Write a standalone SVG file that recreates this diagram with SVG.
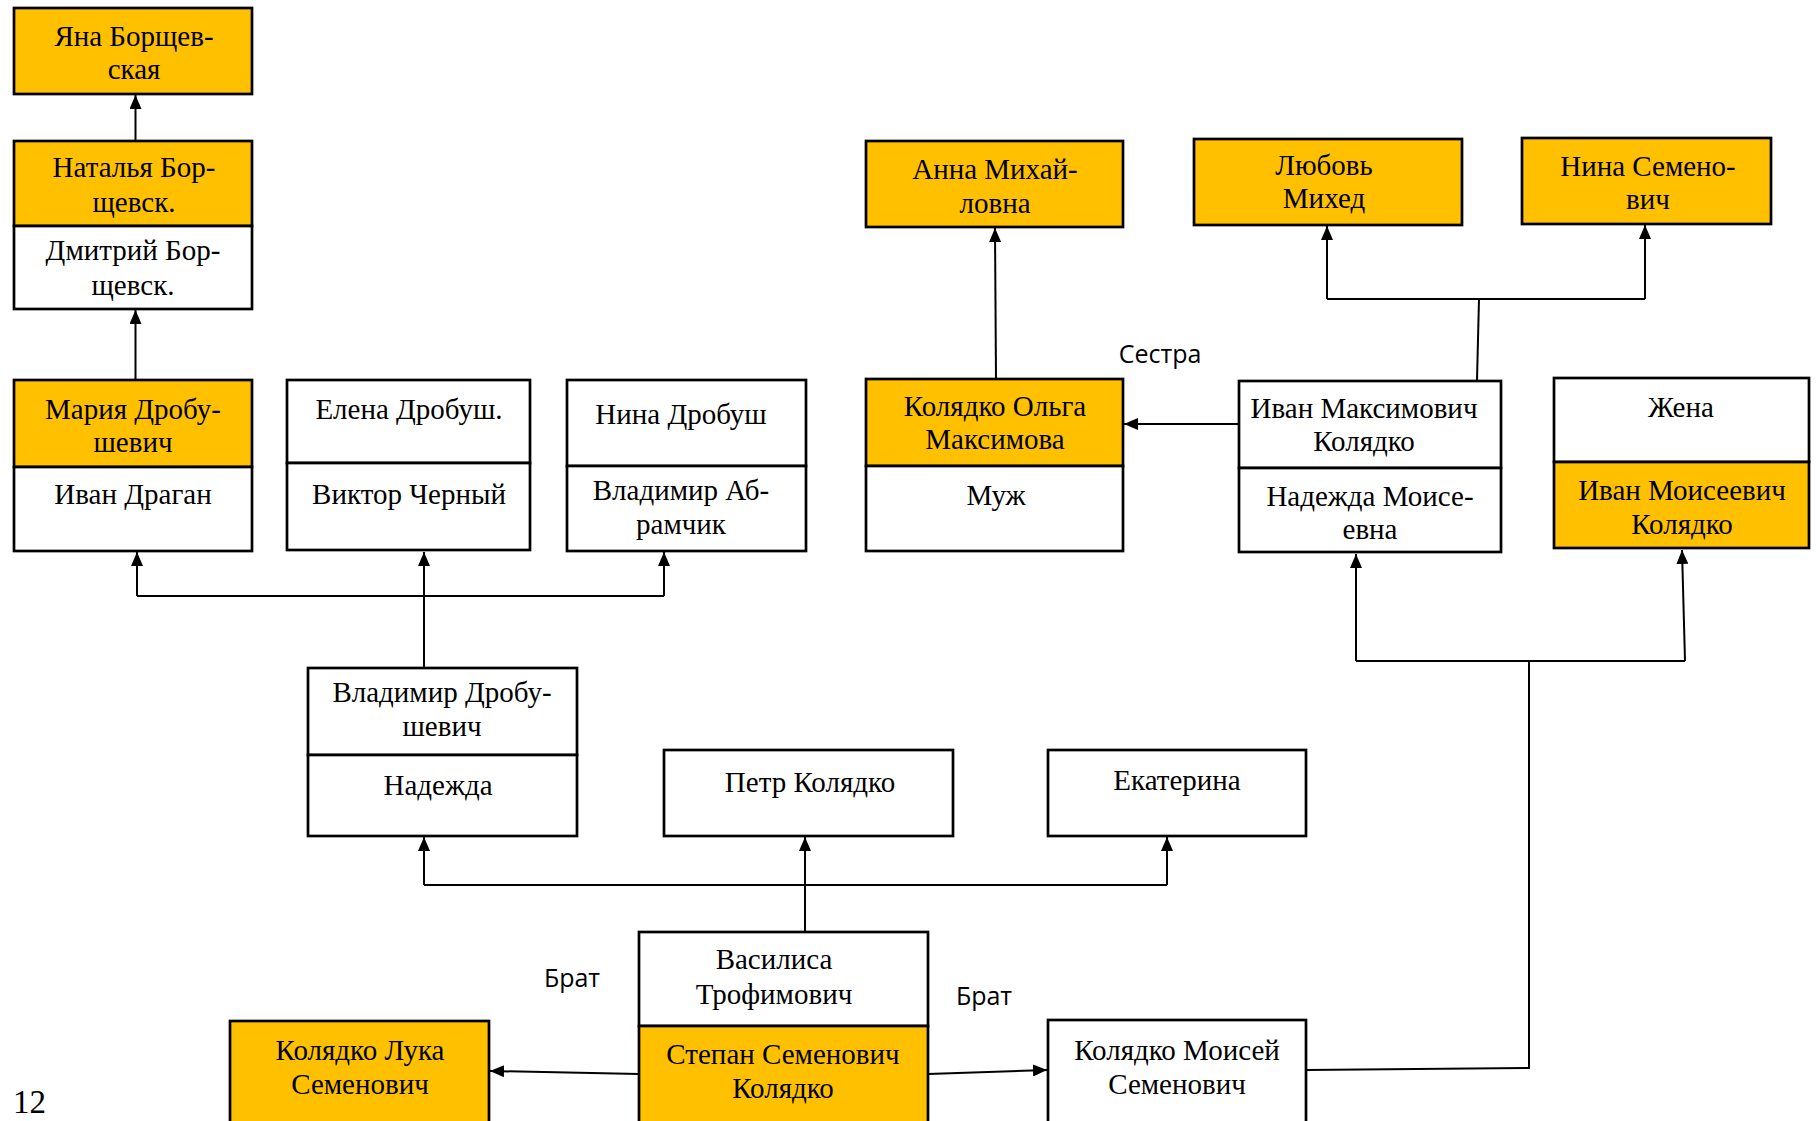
<svg xmlns="http://www.w3.org/2000/svg" width="1816" height="1121" viewBox="0 0 1816 1121">
<style>
.b{stroke:#000;stroke-width:2.7;fill:#fff}
.o{stroke:#000;stroke-width:2.7;fill:#FFC000}
.t{font-family:"Liberation Serif","Times New Roman",serif;font-size:29px;fill:#000;text-anchor:middle}
.s{font-family:"Open Sans","Noto Sans",sans-serif;font-size:25px;fill:#000;text-anchor:middle}
.c{stroke:#000;stroke-width:2;fill:none}
</style>
<defs>
<marker id="a" viewBox="0 0 10 10" refX="10" refY="5" markerWidth="14" markerHeight="12" orient="auto" markerUnits="userSpaceOnUse" preserveAspectRatio="none">
<path d="M0,0 L10,5 L0,10 z" fill="#000"/>
</marker>
</defs>
<rect width="1816" height="1121" fill="#fff"/>
<g id="connectors">
<path class="c" d="M135.5,141 V95" marker-end="url(#a)"/>
<path class="c" d="M135.5,380 V310" marker-end="url(#a)"/>
<path class="c" d="M424,668 V552" marker-end="url(#a)"/>
<path class="c" d="M137,596 H664"/>
<path class="c" d="M137,596 V552" marker-end="url(#a)"/>
<path class="c" d="M664,596 V552" marker-end="url(#a)"/>
<path class="c" d="M805,932 V837" marker-end="url(#a)"/>
<path class="c" d="M424,885 H1167"/>
<path class="c" d="M424,885 V837" marker-end="url(#a)"/>
<path class="c" d="M1167,885 V837" marker-end="url(#a)"/>
<path class="c" d="M639,1074 L490,1071" marker-end="url(#a)"/>
<path class="c" d="M928,1074 L1047,1070" marker-end="url(#a)"/>
<path class="c" d="M1306,1070 L1529,1068 V661"/>
<path class="c" d="M1356,661 H1685"/>
<path class="c" d="M1356,661 V554" marker-end="url(#a)"/>
<path class="c" d="M1685,661 L1682,550" marker-end="url(#a)"/>
<path class="c" d="M996,380 L995,228" marker-end="url(#a)"/>
<path class="c" d="M1239,424 H1124" marker-end="url(#a)"/>
<path class="c" d="M1477,380 L1479,299"/>
<path class="c" d="M1327,299 H1645"/>
<path class="c" d="M1327,299 V226" marker-end="url(#a)"/>
<path class="c" d="M1645,299 V225" marker-end="url(#a)"/>
</g>
<g id="n-yana">
<rect class="o" x="14" y="8" width="238" height="86"/>
<text class="t" x="134" y="46">Яна Борщев-</text>
<text class="t" x="134" y="79">ская</text>
</g>
<g id="n-natalya">
<rect class="o" x="14" y="141" width="238" height="85"/>
<text class="t" x="134" y="177">Наталья Бор-</text>
<text class="t" x="134" y="212">щевск.</text>
<rect class="b" x="14" y="226" width="238" height="83"/>
<text class="t" x="133" y="260">Дмитрий Бор-</text>
<text class="t" x="133" y="295">щевск.</text>
</g>
<g id="n-maria">
<rect class="o" x="14" y="380" width="238" height="87"/>
<text class="t" x="133" y="419">Мария Дробу-</text>
<text class="t" x="133" y="452">шевич</text>
<rect class="b" x="14" y="467" width="238" height="84"/>
<text class="t" x="133" y="504">Иван Драган</text>
</g>
<g id="n-elena">
<rect class="b" x="287" y="380" width="243" height="83"/>
<text class="t" x="409" y="419">Елена Дробуш.</text>
<rect class="b" x="287" y="463" width="243" height="87"/>
<text class="t" x="409" y="504">Виктор Черный</text>
</g>
<g id="n-nina-d">
<rect class="b" x="567" y="380" width="239" height="86"/>
<text class="t" x="681" y="424">Нина Дробуш</text>
<rect class="b" x="567" y="466" width="239" height="85"/>
<text class="t" x="681" y="500">Владимир Аб-</text>
<text class="t" x="681" y="534">рамчик</text>
</g>
<g id="n-vladimir">
<rect class="b" x="308" y="668" width="269" height="87"/>
<text class="t" x="442" y="702">Владимир Дробу-</text>
<text class="t" x="442" y="736">шевич</text>
<rect class="b" x="308" y="755" width="269" height="81"/>
<text class="t" x="438" y="795">Надежда</text>
</g>
<g id="n-petr">
<rect class="b" x="664" y="750" width="289" height="86"/>
<text class="t" x="810" y="792">Петр Колядко</text>
</g>
<g id="n-ekaterina">
<rect class="b" x="1048" y="750" width="258" height="86"/>
<text class="t" x="1177" y="790">Екатерина</text>
</g>
<g id="n-stepan">
<rect class="b" x="639" y="932" width="289" height="94"/>
<text class="t" x="774" y="969">Василиса</text>
<text class="t" x="774" y="1004">Трофимович</text>
<rect class="o" x="639" y="1026" width="289" height="100"/>
<text class="t" x="783" y="1064">Степан Семенович</text>
<text class="t" x="783" y="1098">Колядко</text>
</g>
<g id="n-luka">
<rect class="o" x="230" y="1021" width="259" height="105"/>
<text class="t" x="360" y="1060">Колядко Лука</text>
<text class="t" x="360" y="1094">Семенович</text>
</g>
<g id="n-moisey">
<rect class="b" x="1048" y="1020" width="258" height="106"/>
<text class="t" x="1177" y="1060">Колядко Моисей</text>
<text class="t" x="1177" y="1094">Семенович</text>
</g>
<g id="n-anna">
<rect class="o" x="866" y="141" width="257" height="86"/>
<text class="t" x="995" y="179">Анна Михай-</text>
<text class="t" x="995" y="213">ловна</text>
</g>
<g id="n-lyubov">
<rect class="o" x="1194" y="139" width="268" height="86"/>
<text class="t" x="1324" y="175">Любовь</text>
<text class="t" x="1324" y="208">Михед</text>
</g>
<g id="n-nina-s">
<rect class="o" x="1522" y="138" width="249" height="86"/>
<text class="t" x="1648" y="176">Нина Семено-</text>
<text class="t" x="1648" y="209">вич</text>
</g>
<g id="n-olga">
<rect class="o" x="866" y="379" width="257" height="87"/>
<text class="t" x="995" y="416">Колядко Ольга</text>
<text class="t" x="995" y="449">Максимова</text>
<rect class="b" x="866" y="466" width="257" height="85"/>
<text class="t" x="996" y="505">Муж</text>
</g>
<g id="n-ivan-m">
<rect class="b" x="1239" y="381" width="262" height="87"/>
<text class="t" x="1364" y="418">Иван Максимович</text>
<text class="t" x="1364" y="451">Колядко</text>
<rect class="b" x="1239" y="468" width="262" height="84"/>
<text class="t" x="1370" y="506">Надежда Моисе-</text>
<text class="t" x="1370" y="539">евна</text>
</g>
<g id="n-ivan-mo">
<rect class="b" x="1554" y="378" width="255" height="84"/>
<text class="t" x="1681" y="417">Жена</text>
<rect class="o" x="1554" y="462" width="255" height="86"/>
<text class="t" x="1682" y="500">Иван Моисеевич</text>
<text class="t" x="1682" y="534">Колядко</text>
</g>
<g id="labels">
<text class="s" x="1160" y="363">Сестра</text>
<text class="s" x="572" y="987">Брат</text>
<text class="s" x="984" y="1005">Брат</text>
<text class="t" x="13" y="1113" style="text-anchor:start;font-size:33px">12</text>
</g>
</svg>
